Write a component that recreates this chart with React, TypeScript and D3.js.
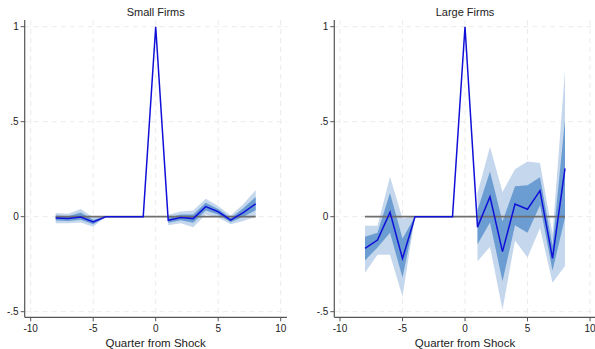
import React from "react";
import * as d3 from "d3";

const quarters = [-8, -7, -6, -5, -4, -3, -2, -1, 0, 1, 2, 3, 4, 5, 6, 7, 8];
const xTicks = [-10, -5, 0, 5, 10];
const yTicks = [-0.5, 0, 0.5, 1];
const yTickLabels = ["-.5", "0", ".5", "1"];

const smallEst = [-0.007, -0.01, -0.002, -0.028, 0, 0, 0, 0, 1, -0.019, -0.004, -0.01, 0.053, 0.026, -0.018, 0.022, 0.068];
const smallOuterLo = [-0.034, -0.035, -0.03, -0.053, 0, 0, 0, 0, null, -0.045, -0.034, -0.055, 0.012, -0.004, -0.04, -0.022, 0.0];
const smallOuterHi = [0.02, 0.015, 0.04, -0.003, 0, 0, 0, 0, null, 0.01, 0.028, 0.033, 0.094, 0.056, 0.006, 0.066, 0.14];
const smallInnerLo = [-0.02, -0.022, -0.016, -0.04, 0, 0, 0, 0, null, -0.032, -0.019, -0.032, 0.032, 0.011, -0.029, 0.0, 0.034];
const smallInnerHi = [0.006, 0.002, 0.022, -0.016, 0, 0, 0, 0, null, -0.006, 0.012, 0.012, 0.074, 0.041, -0.007, 0.044, 0.104];

const largeEst = [-0.167, -0.123, 0.023, -0.22, 0, 0, 0, 0, 1, -0.055, 0.105, -0.184, 0.067, 0.039, 0.137, -0.219, 0.254];
const largeOuterLo = [-0.295, -0.2, -0.2, -0.42, 0, 0, 0, 0, null, -0.235, -0.158, -0.49, -0.125, -0.215, -0.06, -0.347, -0.26];
const largeOuterHi = [-0.047, -0.047, 0.21, -0.01, 0, 0, 0, 0, null, 0.125, 0.368, 0.13, 0.25, 0.29, 0.282, -0.09, 0.77];
const largeInnerLo = [-0.23, -0.162, -0.085, -0.32, 0, 0, 0, 0, null, -0.145, -0.03, -0.34, -0.045, -0.085, 0.06, -0.284, -0.005];
const largeInnerHi = [-0.105, -0.084, 0.125, -0.115, 0, 0, 0, 0, null, 0.035, 0.238, -0.025, 0.16, 0.165, 0.208, -0.154, 0.51];

const FONT = "'Liberation Sans', Arial, Helvetica, sans-serif";

type PanelProps = {
  title: string;
  axisX: number;
  x0: number;
  x1: number;
  right: number;
  est: number[];
  oLo: (number | null)[];
  oHi: (number | null)[];
  iLo: (number | null)[];
  iHi: (number | null)[];
};

const yScale = d3.scaleLinear().domain([-0.5, 1]).range([311.7, 26.7]);
const top = 20;
const bottom = 317.3;

function Panel(p: PanelProps) {
  const xScale = d3.scaleLinear().domain([-10, 10]).range([p.x0, p.x1]);
  const mk = (lo: (number | null)[], hi: (number | null)[]) =>
    d3
      .area<number>()
      .defined((i) => lo[i] !== null && hi[i] !== null)
      .x((i) => xScale(quarters[i]))
      .y0((i) => yScale(lo[i] as number))
      .y1((i) => yScale(hi[i] as number))(quarters.map((_, i) => i)) || "";
  const line =
    d3
      .line<number>()
      .x((i) => xScale(quarters[i]))
      .y((i) => yScale(p.est[i]))(quarters.map((_, i) => i)) || "";
  const cx = xScale(0);
  return (
    <g>
      {yTicks.map((t) => (
        <line key={"gy" + t} x1={p.axisX} x2={p.right} y1={yScale(t)} y2={yScale(t)} stroke="#ebebeb" strokeWidth={1} strokeDasharray="5,4" />
      ))}
      {xTicks.map((t) => (
        <line key={"gx" + t} x1={xScale(t)} x2={xScale(t)} y1={top} y2={bottom} stroke="#ebebeb" strokeWidth={1} strokeDasharray="5,4" />
      ))}
      <path d={mk(p.oLo, p.oHi)} fill="#c5d7ec" />
      <path d={mk(p.iLo, p.iHi)} fill="#6b9dd3" />
      <line x1={xScale(-8)} x2={xScale(8)} y1={yScale(0)} y2={yScale(0)} stroke="#6e6e6e" strokeWidth={1.8} />
      <path d={line} fill="none" stroke="#1010d8" strokeWidth={1.5} strokeLinejoin="miter" />
      <line x1={p.axisX} x2={p.axisX} y1={top} y2={bottom} stroke="#555" strokeWidth={1.2} />
      <line x1={p.axisX} x2={p.right} y1={bottom} y2={bottom} stroke="#555" strokeWidth={1.2} />
      {yTicks.map((t, i) => (
        <g key={"ty" + t}>
          <line x1={p.axisX - 4} x2={p.axisX} y1={yScale(t)} y2={yScale(t)} stroke="#555" strokeWidth={1} />
          <text x={p.axisX - 6} y={yScale(t) + 3.5} textAnchor="end" fontSize={10} fontFamily={FONT} fill="#222">
            {yTickLabels[i]}
          </text>
        </g>
      ))}
      {xTicks.map((t) => (
        <g key={"tx" + t}>
          <line x1={xScale(t)} x2={xScale(t)} y1={bottom} y2={bottom + 4} stroke="#555" strokeWidth={1} />
          <text x={xScale(t)} y={331.5} textAnchor="middle" fontSize={10} fontFamily={FONT} fill="#222">
            {t}
          </text>
        </g>
      ))}
      <text x={cx} y={16} textAnchor="middle" fontSize={11} fontFamily={FONT} fill="#222">
        {p.title}
      </text>
      <text x={cx} y={346.5} textAnchor="middle" fontSize={11.5} fontFamily={FONT} fill="#222">
        Quarter from Shock
      </text>
    </g>
  );
}

export default function App() {
  return (
    <svg width={595} height={349} style={{ position: "absolute", left: 0, top: 0, background: "#fff" }}>
      <rect width={595} height={349} fill="#fff" />
      <Panel title="Small Firms" axisX={24.7} x0={30.7} x1={280.7} right={287} est={smallEst} oLo={smallOuterLo} oHi={smallOuterHi} iLo={smallInnerLo} iHi={smallInnerHi} />
      <Panel title="Large Firms" axisX={334.3} x0={340} x1={590} right={596} est={largeEst} oLo={largeOuterLo} oHi={largeOuterHi} iLo={largeInnerLo} iHi={largeInnerHi} />
    </svg>
  );
}
